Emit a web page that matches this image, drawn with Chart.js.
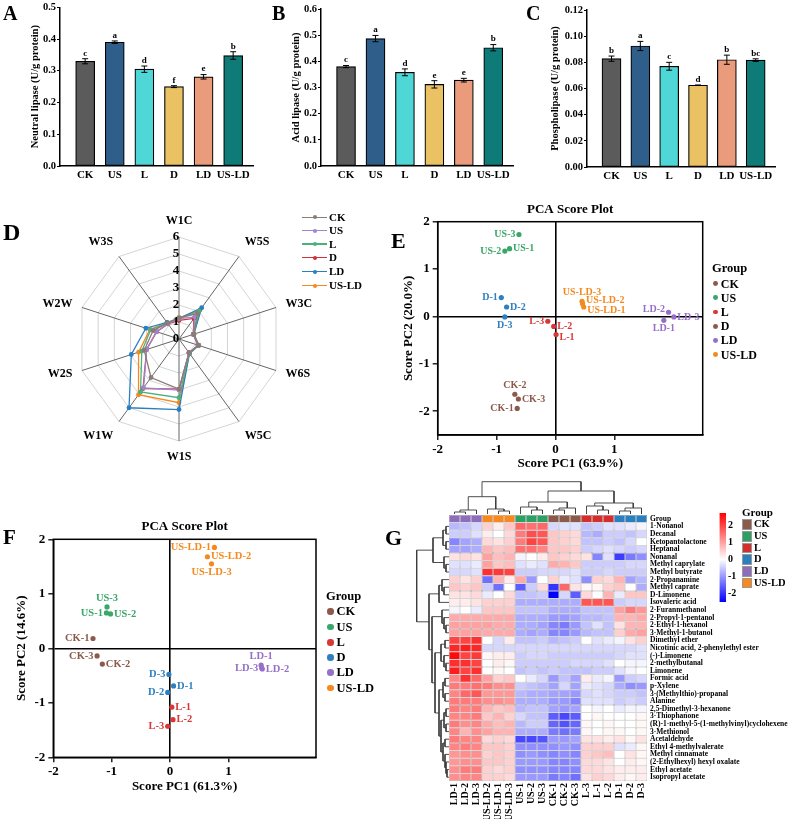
<!DOCTYPE html>
<html><head><meta charset="utf-8">
<script src="https://cdn.jsdelivr.net/npm/chart.js@4.4.1/dist/chart.umd.min.js"></script>
<style>
body{margin:0;background:#fff;width:788px;height:819px;position:relative;overflow:hidden;font-family:'Liberation Serif',serif;font-weight:bold}
canvas{position:absolute}
</style></head><body>
<canvas id="cA" width="258" height="185" style="left:0px;top:0px"></canvas>
<canvas id="cB" width="262" height="185" style="left:258px;top:0px"></canvas>
<canvas id="cC" width="268" height="185" style="left:520px;top:0px"></canvas>
<canvas id="cD" width="390" height="300" style="left:0px;top:185px"></canvas>
<canvas id="cE" width="398" height="290" style="left:390px;top:190px"></canvas>
<canvas id="cF" width="390" height="304" style="left:0px;top:515px"></canvas>
<canvas id="cGc" width="215" height="42" style="left:440px;top:475px"></canvas>
<canvas id="cGr" width="42" height="268" style="left:410px;top:518px"></canvas>
<canvas id="cG" width="408" height="314" style="left:380px;top:505px"></canvas>
<canvas id="cCb" width="40" height="105" style="left:712px;top:505px"></canvas>
<script>
// ---------------- DATA ----------------
const barCats = ['CK','US','L','D','LD','US-LD'];
const neutralLipase = [0.330,0.390,0.305,0.250,0.281,0.348];
const neutralErr    = [0.008,0.004,0.010,0.003,0.007,0.012];
const neutralSig    = ['c','a','d','f','e','b'];
const acidLipase    = [0.380,0.487,0.358,0.312,0.328,0.452];
const acidErr       = [0.004,0.012,0.013,0.014,0.007,0.012];
const acidSig       = ['c','a','d','e','e','b'];
const phospholipase = [0.0828,0.0925,0.0770,0.0625,0.0820,0.0817];
const phosphoErr    = [0.0020,0.0035,0.0030,0.0002,0.0035,0.0010];
const phosphoSig    = ['b','a','c','d','b','bc'];

const sensors = ['W1C','W5S','W3C','W6S','W5C','W1S','W1W','W2S','W2W','W3S'];
const radarCK   = [1.25,1.85,0.90,1.20,1.00,2.95,2.80,2.15,1.60,1.15];
const radarUS   = [1.20,1.60,0.88,1.18,1.00,3.00,3.55,2.00,1.40,1.10];
const radarL    = [1.20,2.00,0.90,1.20,1.02,3.45,3.85,2.30,1.75,1.15];
const radarD    = [1.10,1.50,0.88,1.18,1.00,2.95,3.60,2.00,1.38,1.10];
const radarLD   = [1.20,2.27,0.92,1.22,1.05,4.15,5.00,2.95,2.05,1.20];
const radarUSLD = [1.25,2.10,0.93,1.22,1.05,3.75,4.05,2.50,1.80,1.20];

const sampleNames = ['CK-1','CK-2','CK-3','US-1','US-2','US-3','L-1','L-2','L-3','D-1','D-2','D-3','LD-1','LD-2','LD-3','US-LD-1','US-LD-2','US-LD-3'];
const pcaE_PC1 = [-0.65,-0.69,-0.63,-0.78,-0.86,-0.62, 0.01,-0.03,-0.13,-0.92,-0.83,-0.86, 1.84, 1.92, 2.01, 0.48, 0.46, 0.45];
const pcaE_PC2 = [-1.94,-1.64,-1.74, 1.43, 1.38, 1.73,-0.38,-0.21,-0.10, 0.40, 0.20,-0.01,-0.08, 0.09,-0.01, 0.20, 0.27, 0.32];
const pcaE_labelSide = ['l','a','r','r','l','l','rb','r','l','l','r','b','b','la','r','rb','ra','a'];
const pcaF_PC1 = [-1.32,-1.16,-1.25,-1.09,-1.02,-1.08, 0.03, 0.05,-0.04, 0.06,-0.04,-0.02, 1.56, 1.58, 1.57, 0.76, 0.64, 0.71];
const pcaF_PC2 = [ 0.18,-0.29,-0.14, 0.65, 0.63, 0.76,-1.08,-1.31,-1.43,-0.69,-0.81,-0.48,-0.31,-0.38,-0.36, 1.85, 1.68, 1.55];
const pcaF_labelSide = ['l','r','l','l','r','a','r','r','l','r','l','l','a','r','l','l','r','b'];

const heatCols = ['LD-1','LD-2','LD-3','US-LD-2','US-LD-1','US-LD-3','US-1','US-2','US-3','CK-1','CK-2','CK-3','L-3','L-1','L-2','D-1','D-2','D-3'];
const heatRows = ['1-Nonanol','Decanal','Ketopantolactone','Heptanal','Nonanal','Methyl caprylate','Methyl butyrate','2-Propanamine','Methyl caprate','D-Limonene','Isovaleric acid','2-Furanmethanol','2-Propyl-1-pentanol','2-Ethyl-1-hexanol','3-Methyl-1-butanol','Dimethyl ether','Nicotinic acid, 2-phenylethyl ester','(-)-Limonene','2-methylbutanal','Limonene','Formic acid','p-Xylene','3-(Methylthio)-propanal','Alanine','2,5-Dimethyl-3-hexanone','3-Thiophanone','(R)-1-methyl-5-(1-methylvinyl)cyclohexene','3-Methionol','Acetaldehyde','Ethyl 4-methylvalerate','Methyl cinnamate','(2-Ethylhexyl) hexyl oxalate','Ethyl acetate','Isopropyl acetate'];
const heatValues = [
[-0.7,-0.6,-0.4, 0.5,0.2,0.6, 1.6,1.5,1.6, -0.4,-0.3,-0.3, -0.6,-0.5,-0.3, -0.3,-0.2,-0.1],
[-0.5,-0.5,-0.3, 0.2,0.0,0.4, 1.4,1.9,1.8, 0.6,0.5,0.4, -0.7,-0.8,-0.5, -0.5,-0.6,-0.4],
[-1.2,-0.9,-0.8, 0.4,0.3,0.5, 1.4,2.0,1.8, 0.6,0.5,0.4, -0.6,-0.6,-0.5, -0.6,-0.4,0.0],
[-0.9,-0.9,-0.8, 0.8,0.6,0.7, 1.5,1.5,1.3, 0.6,0.6,0.5, -0.5,-0.4,-0.3, -0.4,-0.5,-0.4],
[0.3,0.4,0.3, 1.0,0.7,0.8, -0.1,0.0,0.2, 0.6,0.5,0.4, 0.3,-1.2,-0.3, -1.9,-1.3,-1.1],
[-0.3,-0.3,-0.2, 1.0,0.6,0.7, -0.3,-0.2,-0.3, 0.9,0.8,0.6, -0.5,-0.5,-0.5, -0.5,-0.4,-0.4],
[-0.4,-0.4,-0.3, 2.2,2.1,2.0, -0.5,-0.5,-0.4, -0.4,-0.4,-0.3, -0.5,-0.5,-0.4, -0.5,-0.5,-0.5],
[0.5,0.3,0.5, -1.4,0.8,0.2, 0.9,-1.0,0.0, 0.5,-0.2,-0.3, -1.1,0.5,0.4, 0.8,-0.9,-0.7],
[0.6,0.5,0.6, -0.5,-1.4,0.0, -1.6,-0.5,0.4, -2.0,1.6,0.3, 0.1,0.1,0.5, 0.6,0.0,-0.8],
[0.3,0.3,0.4, -0.2,0.0,0.4, -0.6,-0.6,-0.5, -2.6,-0.4,-1.6, 0.4,0.0,0.8, -0.2,0.6,0.6],
[0.2,0.2,0.3, 0.5,0.5,0.5, -0.8,-0.8,-0.8, -0.8,-0.8,-0.8, 1.8,1.8,1.8, -0.5,-0.4,-0.4],
[-0.1,0.0,-0.2, 0.6,0.6,0.6, -0.6,-0.6,-0.6, -0.8,-0.8,-0.8, -0.6,-0.6,-0.6, 1.0,1.4,1.1],
[0.9,0.9,0.9, 0.9,0.9,0.9, -0.8,-0.8,-0.8, -1.0,-1.0,-0.9, -0.7,-0.7,-0.6, 0.8,0.8,0.9],
[1.0,1.0,1.0, 1.0,0.9,0.9, -0.8,-0.8,-0.9, -1.2,-1.3,-1.0, -0.6,-0.3,-0.6, 0.3,0.8,0.8],
[1.0,1.0,1.0, 0.9,0.9,0.9, -0.8,-0.9,-0.8, -1.2,-1.2,-1.0, -0.7,-0.6,-0.6, 0.5,0.9,1.0],
[2.0,2.0,2.2, 0.0,-0.4,0.2, -0.6,-0.6,-0.5, -0.7,-0.6,-0.5, 0.0,-0.3,-0.2, -0.1,0.3,0.5],
[2.3,2.4,2.3, -0.4,-0.4,-0.4, -0.4,-0.4,-0.4, -0.4,-0.4,-0.4, -0.4,-0.4,-0.4, -0.4,-0.4,-0.3],
[2.6,2.0,2.1, 0.1,0.2,0.2, -0.5,-0.4,-0.4, -0.5,-0.5,-0.5, -0.5,-0.5,-0.5, -0.4,-0.3,-0.3],
[2.2,2.2,2.0, 0.0,0.2,0.1, -0.5,-0.5,-0.5, -0.5,-0.5,-0.4, -0.4,-0.4,-0.3, 0.0,-0.1,-0.1],
[2.4,2.0,2.2, 0.0,0.1,0.0, -0.6,-0.5,-0.6, -0.5,-0.6,-0.6, -0.6,-0.5,-0.5, -0.3,-0.1,0.0],
[1.3,2.2,1.6, 1.0,0.5,0.6, 0.0,-0.2,-0.4, -1.0,-0.6,-0.9, 0.2,-0.2,-0.1, -1.0,-0.5,-0.4],
[1.4,1.4,1.5, 1.4,1.2,1.2, -0.5,-0.6,-0.7, -0.9,-0.4,-0.9, -0.2,-0.3,-0.4, -0.8,-1.1,-1.0],
[1.3,1.6,1.8, 1.1,1.1,1.1, -0.7,-0.8,-0.8, -0.9,-0.9,-1.0, -0.4,-0.3,-0.4, -0.5,-0.5,-0.6],
[1.4,1.4,1.4, 1.2,1.2,1.1, -0.8,-0.8,-0.8, -1.0,-1.0,-1.2, -0.3,-0.3,-0.3, -0.5,-0.4,-0.5],
[1.4,1.3,1.4, 0.8,0.6,0.7, -0.7,-0.6,-0.6, -0.9,-1.0,-0.9, 0.0,-0.1,0.0, -0.2,-0.1,-0.1],
[1.3,1.3,1.4, 0.6,0.8,0.5, -0.4,-0.6,-0.6, -1.6,-1.8,-1.6, 0.0,0.1,0.0, 0.0,0.0,0.1],
[1.4,1.2,1.3, 0.9,0.7,0.8, -0.7,-0.5,-0.5, -1.5,-1.7,-1.5, 0.1,0.0,0.1, 0.0,0.0,0.1],
[1.3,0.8,1.2, 1.0,0.8,0.8, -0.8,-0.8,-0.8, -1.3,-1.4,-1.3, 0.1,0.0,0.1, 0.1,0.0,0.1],
[1.4,1.3,1.3, 0.4,0.5,0.4, -1.8,-1.8,-1.7, -1.0,-1.0,-0.9, 0.3,0.3,0.2, 0.3,0.1,0.3],
[1.3,1.4,1.3, 0.6,0.6,0.5, -1.1,-1.1,-1.1, -1.1,-1.0,-1.1, 0.5,0.5,0.5, -0.3,-0.2,0.1],
[1.1,1.2,1.2, 0.5,0.6,0.5, -1.1,-1.0,-1.1, -1.2,-1.1,-1.2, 0.5,0.6,0.7, 0.0,0.3,0.1],
[1.1,1.2,1.2, 0.6,0.6,0.5, -1.0,-1.0,-1.0, -1.2,-1.2,-1.1, 0.4,0.4,0.3, 0.0,0.2,0.1],
[1.2,1.4,1.4, 0.5,0.4,0.5, -1.1,-1.1,-1.1, -1.2,-1.2,-1.2, 0.4,0.4,0.3, 0.2,0.2,0.2],
[1.2,1.3,1.3, 0.5,0.5,0.4, -1.0,-1.0,-1.0, -1.3,-1.2,-1.4, 0.3,0.5,0.4, 0.2,0.1,0.2]
];
// dendrograms: [height, left, right]; leaves are display indexes
const colTree = [32.3,[17.3,[4,[2,0,1],2],[5,3,[3,4,5]]],[23,[12,[7,6,[4,7,8]],[6,[4,9,10],11]],[11,[8,12,[4,13,14]],[6,[3,15,16],17]]]];
const rowTree = [32.3,
  [16,[6,[3,0,1],[3,2,3]],[5,4,[3,5,6]]],
  [20,[10,[7,7,[5,8,9]],10],
      [17,[7,11,[5,12,[3,13,14]]],
          [14,[8,[4,15,16],[5,17,[3,18,19]]],
              [10,[6,[4,20,21],[4,22,23]],[8,[5,[3,24,25],[3,26,27]],[6,[4,28,29],[4,30,[3,31,[2,32,33]]]]]]]]]];
const heatTicks = [2,1,0,-1,-2];

// ---------------- STYLE ----------------
const FONT = "'Liberation Serif', 'Times New Roman', serif";
Chart.defaults.font.family = FONT;
Chart.defaults.font.weight = 'bold';
Chart.defaults.color = '#000';
Chart.defaults.animation = false;
Chart.defaults.plugins.legend.display = false;
Chart.defaults.plugins.tooltip.enabled = false;
const barColors = ['#5b5b5b','#2e5e89','#4fd6d6','#eac264','#e99b7c','#0f7b78'];
const radarColors = ['#8c7b76','#9c86d2','#4cb07c','#d2303a','#2a7fc0','#f5891e'];
const groupNames = ['CK','US','L','D','LD','US-LD'];
const pcaColors = {'CK':'#8c5a4b','US':'#3aa66a','L':'#d93636','D':'#2f7fbf','LD':'#9670c8','US-LD':'#f4891f'};
const hmGroupColors = {'CK':'#8b5a4a','US':'#2fa064','L':'#d42e2e','D':'#2a7fbe','LD':'#8f6dbd','US-LD':'#f7891e'};

function txt(t, left, top, size, color, extra){
  const d=document.createElement('div'); d.textContent=t;
  d.style.cssText=`position:absolute;left:${left}px;top:${top}px;font:bold ${size}px ${FONT};line-height:1;color:${color||'#000'};white-space:nowrap;`+(extra||'');
  document.body.appendChild(d); return d;
}
function shape(left, top, w, h, css){
  const d=document.createElement('div');
  d.style.cssText=`position:absolute;left:${left}px;top:${top}px;width:${w}px;height:${h}px;`+css;
  document.body.appendChild(d); return d;
}

// ---------------- BAR CHARTS ----------------
const errPlugin = {id:'errbars', afterDatasetsDraw(chart, args, o){
  const meta=chart.getDatasetMeta(0), y=chart.scales.y, ctx=chart.ctx;
  ctx.save(); ctx.strokeStyle='#000'; ctx.lineWidth=1; ctx.fillStyle='#000';
  ctx.font=`bold 9px ${FONT}`; ctx.textAlign='center'; ctx.textBaseline='bottom';
  meta.data.forEach((bar,i)=>{
    const v=o.vals[i], e=o.errs[i], x=bar.x;
    const yt=y.getPixelForValue(v+e), yb=y.getPixelForValue(v-e);
    ctx.beginPath(); ctx.moveTo(x,yt); ctx.lineTo(x,yb);
    ctx.moveTo(x-3,yt); ctx.lineTo(x+3,yt); ctx.moveTo(x-3,yb); ctx.lineTo(x+3,yb); ctx.stroke();
    ctx.fillText(o.sig[i], x, yt-1);
  });
  ctx.restore();
}};
function barChart(id, vals, errs, sig, c){
  new Chart(document.getElementById(id), {
    type:'bar',
    data:{datasets:[{data: vals.map((v,i)=>({x:i,y:v})), backgroundColor:barColors, borderColor:'#000', borderWidth:1.2, borderSkipped:false, barThickness:19}]},
    options:{responsive:false, devicePixelRatio:1,
      layout:{padding:{left:0,right:c.padR,top:c.padT,bottom:0}},
      plugins:{errbars:{vals,errs,sig}},
      scales:{
        x:{type:'linear', min:-0.85, max:5.67, offset:false,
           afterBuildTicks:s=>{s.ticks=barCats.map((_,i)=>({value:i}));},
           ticks:{callback:v=>barCats[v], autoSkip:false, maxRotation:0, font:{size:11,weight:'bold'}, padding:3},
           grid:{display:false, drawTicks:false, offset:false}, border:{color:'#000',width:1.5},
           afterFit:s=>{s.height=c.xh;}},
        y:{min:0, max:c.ymax, ticks:{stepSize:c.step, callback:v=>v.toFixed(c.dec), font:{size:10.5,weight:'bold'}, padding:1},
           grid:{drawOnChartArea:false, color:'#000', tickLength:3, tickWidth:1.2}, border:{color:'#000',width:1.5},
           title:{display:true, text:c.title, font:{size:10.5,weight:'bold'}, padding:{top:c.titlePad,bottom:0}},
           afterFit:s=>{s.width=c.yw;}}
      }},
    plugins:[errPlugin]
  });
}
barChart('cA', neutralLipase, neutralErr, neutralSig, {padR:5, padT:7, xh:19, yw:60, ymax:0.5, step:0.1, dec:1, title:'Neutral lipase (U/g protein)', titlePad:28.7});
barChart('cB', acidLipase, acidErr, acidSig, {padR:7, padT:9, xh:19, yw:63, ymax:0.6, step:0.1, dec:1, title:'Acid lipase (U/g protein)', titlePad:31.7});
barChart('cC', phospholipase, phosphoErr, phosphoSig, {padR:13, padT:10, xh:18, yw:67, ymax:0.12, step:0.02, dec:2, title:'Phospholipase (U/g protein)', titlePad:28.7});

// ---------------- RADAR ----------------
const radarLabelPlugin = {id:'radarLabels', afterDraw(chart){
  const s=chart.scales.r, ctx=chart.ctx; ctx.save(); ctx.fillStyle='#000';
  ctx.font=`bold 12px ${FONT}`;
  sensors.forEach((lab,i)=>{
    const p=s.getPointPosition(i, s.drawingArea+10); const a=s.getIndexAngle(i);
    const sn=Math.sin(a), cs=Math.cos(a);
    ctx.textAlign = sn>0.05?'left':(sn<-0.05?'right':'center');
    ctx.textBaseline = cs>0.5?'bottom':(cs<-0.5?'top':'middle');
    ctx.fillText(lab, p.x, p.y);
  });
  ctx.font=`bold 13px ${FONT}`; ctx.textAlign='center'; ctx.textBaseline='middle';
  for(let k=0;k<=6;k++){ ctx.fillText(String(k), s.xCenter-3, s.yCenter - s.getDistanceFromCenterForValue(k)); }
  ctx.restore();
}};
const radarSeries=[radarCK,radarUS,radarL,radarD,radarLD,radarUSLD];
new Chart(document.getElementById('cD'), {
  type:'radar',
  data:{labels:sensors, datasets: radarSeries.map((d,i)=>({label:groupNames[i], data:d, borderColor:radarColors[i], backgroundColor:radarColors[i], pointBackgroundColor:radarColors[i], pointBorderColor:radarColors[i], pointRadius:1.8, borderWidth:1.3, fill:false}))},
  options:{responsive:false, devicePixelRatio:1,
    layout:{padding:{left:77,top:52,right:109,bottom:44}},
    scales:{r:{min:0,max:6, ticks:{stepSize:1, display:false}, grid:{color:'#d4d4d4', circular:false, lineWidth:1}, angleLines:{color:'#666', lineWidth:1}, pointLabels:{display:false}}}},
  plugins:[radarLabelPlugin]
});
// radar legend
const radarLegY=[217.3,230.5,244,257.5,271.5,285.5];
groupNames.forEach((g,i)=>{
  const y=radarLegY[i];
  shape(302, y-0.75, 25, 1.5, `background:${radarColors[i]}`);
  shape(312.5, y-2, 4, 4, `background:${radarColors[i]};border-radius:50%`);
  txt(g, 329, y-5.5, 11);
});

// ---------------- PCA ----------------
const ptLabelPlugin = {id:'ptLabels', afterDatasetsDraw(chart, args, o){
  const ctx=chart.ctx; ctx.save(); ctx.font=`bold ${o.size}px ${FONT}`;
  chart.data.datasets.forEach((ds,di)=>{
    chart.getDatasetMeta(di).data.forEach((pt,i)=>{
      const d=ds.data[i]; let x=pt.x, y=pt.y; const g=3.5;
      ctx.fillStyle=ds.borderColor;
      const side=d.side[0], shift=d.side[1];
      if(side==='l'){ctx.textAlign='right';ctx.textBaseline='middle';x-=g;}
      else if(side==='r'){ctx.textAlign='left';ctx.textBaseline='middle';x+=g;}
      else if(side==='a'){ctx.textAlign='center';ctx.textBaseline='bottom';y-=g;}
      else {ctx.textAlign='center';ctx.textBaseline='top';y+=g;}
      if(shift==='a') y-=3; else if(shift==='b') y+=3;
      ctx.fillText(d.name, x, y);
    });
  });
  ctx.restore();
}};
const framePlugin = {id:'frame', afterDraw(chart, args, o){
  const a=chart.chartArea, ctx=chart.ctx; ctx.save();
  ctx.strokeStyle='#000'; ctx.lineWidth=1.5; ctx.strokeRect(a.left, a.top, a.right-a.left, a.bottom-a.top);
  ctx.fillStyle='#000'; ctx.font=`bold 13px ${FONT}`; ctx.textAlign='center'; ctx.textBaseline='middle';
  ctx.fillText(o.title, (a.left+a.right)/2, o.titleY);
  ctx.restore();
}};
function pcaChart(id, xs, ys, sides, c){
  const datasets = groupNames.map(g=>{
    const pts=[]; sampleNames.forEach((n,i)=>{ if(n.replace(/-\d$/,'')===g) pts.push({x:xs[i], y:ys[i], name:n, side:sides[i]}); });
    return {label:g, data:pts, backgroundColor:pcaColors[g], borderColor:pcaColors[g], pointRadius:2.6, pointBorderWidth:0};
  });
  const zeroCol = cx => (cx.tick && cx.tick.value===0) ? '#000' : 'rgba(0,0,0,0)';
  const intTicks = s => { s.ticks = s.ticks.filter(t=>Math.abs(t.value-Math.round(t.value))<1e-9); };
  new Chart(document.getElementById(id), {
    type:'scatter', data:{datasets},
    options:{responsive:false, devicePixelRatio:1,
      layout:{padding:{left:0,right:c.padR,top:c.padT,bottom:c.padB}},
      plugins:{ptLabels:{size:c.lab}, frame:{title:'PCA Score Plot', titleY:c.titleY}},
      scales:{
        x:{type:'linear', min:-2, max:2.5, afterBuildTicks:intTicks, ticks:{stepSize:1, font:{size:13,weight:'bold'}, padding:2, maxRotation:0},
           grid:{color:zeroCol, lineWidth:1.6, tickColor:'#000', tickWidth:1.3, tickLength:5}, border:{color:'#000',width:1.5},
           title:{display:true, text:c.xTitle, font:{size:13,weight:'bold'}, padding:{top:0,bottom:0}},
           afterFit:s=>{s.height=c.xh;}},
        y:{type:'linear', min:c.ymin, max:2, afterBuildTicks:intTicks, ticks:{stepSize:1, font:{size:13,weight:'bold'}, padding:3},
           grid:{color:zeroCol, lineWidth:1.6, tickColor:'#000', tickWidth:1.3, tickLength:5}, border:{color:'#000',width:1.5},
           title:{display:true, text:c.yTitle, font:{size:13,weight:'bold'}, padding:{top:c.yTitlePad,bottom:0}},
           afterFit:s=>{s.width=c.yw;}}
      }},
    plugins:[ptLabelPlugin, framePlugin]
  });
}
pcaChart('cE', pcaE_PC1, pcaE_PC2, pcaE_labelSide, {padR:85.3, padT:31.7, padB:8.3, xh:36.7, yw:47.7, ymin:-2.5, lab:10, titleY:20, xTitle:'Score PC1 (63.9%)', yTitle:'Score PC2 (20.0%)', yTitlePad:10.5});
pcaChart('cF', pcaF_PC1, pcaF_PC2, pcaF_labelSide, {padR:74, padT:24.3, padB:24.5, xh:37.2, yw:53.3, ymin:-2, lab:10.5, titleY:11.7, xTitle:'Score PC1 (61.3%)', yTitle:'Score PC2 (14.6%)', yTitlePad:13.9});
// PCA legends
function pcaLegend(x, yTitle, ys, dotD, colorsArr, size){
  txt('Group', x, yTitle-0.5*12.5, 12.5);
  groupNames.forEach((g,i)=>{
    shape(x+1, ys[i]-dotD/2, dotD, dotD, `background:${colorsArr[i]};border-radius:50%`);
    txt(g, x+dotD+4, ys[i]-0.5*size, size);
  });
}
pcaLegend(712, 268, [283.7,297.8,312,326.2,340.4,354.8], 4.8, ['#8c5a4b','#3aa66a','#d93636','#8c5a4b','#9670c8','#f4891f'], 12);
pcaLegend(326, 596.7, [611.7,627,642.3,657.3,672.5,688], 6.5, ['#8c5a4b','#3aa66a','#d93636','#2f7fbf','#9670c8','#f4891f'], 12.5);

// ---------------- HEATMAP ----------------
function heatColor(v){
  if(v>=0){ const t=Math.min(v/2.7,1), c=Math.round(255*(1-t)); return `rgb(255,${c},${c})`; }
  const t=Math.min(-v/2.5,1), c=Math.round(255*(1-t)); return `rgb(${c},${c},255)`;
}
const nR=heatRows.length;
const hmDatasets=[];
for(let k=0;k<nR;k++){
  const r=nR-1-k;
  hmDatasets.push({data:heatCols.map(()=>1), backgroundColor:heatValues[r].map(heatColor), borderColor:'#a3a3a3', borderWidth:0.5, borderSkipped:false, barPercentage:1, categoryPercentage:1, inflateAmount:0});
}
hmDatasets.push({data:heatCols.map(()=>1), backgroundColor:heatCols.map(n=>hmGroupColors[n.replace(/-\d$/,'')]), borderColor:'#a3a3a3', borderWidth:0.5, borderSkipped:false, barPercentage:1, categoryPercentage:1, inflateAmount:0});
new Chart(document.getElementById('cG'), {
  type:'bar', data:{labels:heatCols, datasets:hmDatasets},
  options:{responsive:false, devicePixelRatio:1,
    layout:{padding:{left:69,top:10,right:0,bottom:0}},
    scales:{
      x:{stacked:true, ticks:{minRotation:90, maxRotation:90, autoSkip:false, font:{size:10,weight:'bold'}, padding:2},
         grid:{display:false, drawTicks:false}, border:{display:false}, afterFit:s=>{s.height=38;}},
      y:{stacked:true, position:'right', min:0, max:nR+1,
         afterBuildTicks:s=>{const t=[]; for(let i=0;i<=nR;i++) t.push({value:i+0.5}); s.ticks=t;},
         ticks:{autoSkip:false, font:{size:7.5,weight:'bold'}, padding:3, callback:v=>{const idx=Math.round(nR-0.5-v); return idx<0?'Group':heatRows[idx];}},
         grid:{display:false, drawTicks:false}, border:{display:false}, afterFit:s=>{s.width=141;}}
    }}
});
// dendrograms
function treeSegments(node, segs){
  if(typeof node==='number') return {pos:node, h:0};
  const a=treeSegments(node[1],segs), b=treeSegments(node[2],segs);
  segs.push([[a.pos,a.h],[a.pos,node[0]],[b.pos,node[0]],[b.pos,b.h]]);
  return {pos:(a.pos+b.pos)/2, h:node[0]};
}
const colSegs=[]; treeSegments(colTree, colSegs);
new Chart(document.getElementById('cGc'), {
  type:'scatter',
  data:{datasets:colSegs.map(s=>({data:s.map(p=>({x:p[0],y:p[1]})), showLine:true, borderColor:'#3a3a3a', borderWidth:0.9, pointRadius:0}))},
  options:{responsive:false, devicePixelRatio:1, layout:{padding:{left:9,right:8,top:6,bottom:3}},
    scales:{x:{display:false,min:-0.5,max:heatCols.length-0.5}, y:{display:false,min:0,max:33}}}
});
const rowSegs=[]; treeSegments(rowTree, rowSegs);
new Chart(document.getElementById('cGr'), {
  type:'scatter',
  data:{datasets:rowSegs.map(s=>({data:s.map(p=>({x:p[1],y:p[0]})), showLine:true, borderColor:'#3a3a3a', borderWidth:0.9, pointRadius:0}))},
  options:{responsive:false, devicePixelRatio:1, layout:{padding:{left:6,right:3,top:4.6,bottom:5}},
    scales:{x:{display:false,min:0,max:33,reverse:true}, y:{display:false,min:-0.5,max:nR-0.5,reverse:true}}}
});
// colour bar
new Chart(document.getElementById('cCb'), {
  type:'bar',
  data:{labels:[''], datasets:[{data:[[-2.5,2.73]], borderWidth:0, barPercentage:1, categoryPercentage:1,
    backgroundColor:(c)=>{const ca=c.chart.chartArea; if(!ca) return '#fff'; const g=c.chart.ctx.createLinearGradient(0,ca.bottom,0,ca.top); g.addColorStop(0,'#0000ff'); g.addColorStop(0.478,'#ffffff'); g.addColorStop(1,'#ff0000'); return g;}}]},
  options:{responsive:false, devicePixelRatio:1, layout:{padding:{left:7.5,top:6.7,right:0,bottom:7}},
    scales:{x:{display:false},
      y:{position:'right', min:-2.5, max:2.73, afterBuildTicks:s=>{s.ticks=heatTicks.map(v=>({value:v}));},
         ticks:{font:{size:10,weight:'bold'}, padding:2}, grid:{display:false, drawTicks:false}, border:{display:false}, afterFit:s=>{s.width=26;}}}}
});
// group legend
txt('Group', 742, 512.5-5.5, 11);
const gTop=[519.3,531,542.7,554.3,566,577.7];
['CK','US','L','D','LD','US-LD'].forEach((g,i)=>{
  shape(742, gTop[i], 10, 10.5, `background:${hmGroupColors[g]};box-sizing:border-box;border:0.5px solid #999`);
  txt(g, 754, gTop[i]+5.2-5.25, 10.5);
});

// ---------------- PANEL LETTERS ----------------
txt('A', 3, 3, 20); txt('B', 272, 3, 20); txt('C', 526, 3, 20);
txt('D', 3, 220, 24); txt('E', 391, 230, 22); txt('F', 3, 527, 21); txt('G', 385, 527, 22);
</script>
</body></html>
